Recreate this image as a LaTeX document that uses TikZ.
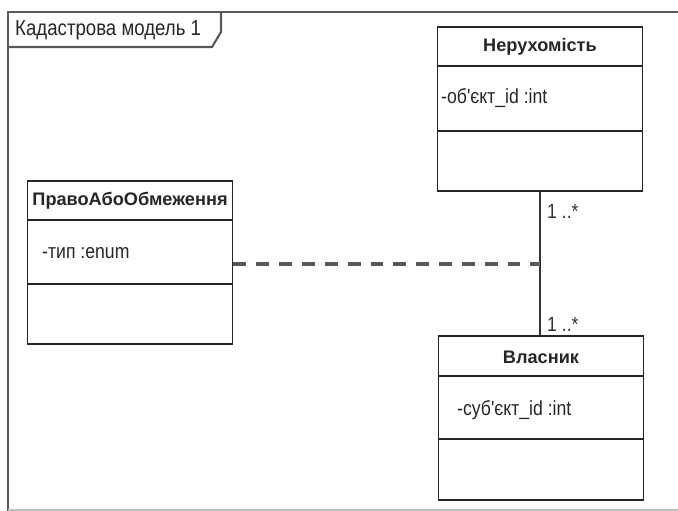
\documentclass[tikz,border=0pt]{standalone}
\usepackage{fontspec}
\setmainfont{Liberation Sans}
\newfontfamily\narrowsans[FakeStretch=0.86]{Liberation Sans}
\usetikzlibrary{positioning,calc}

\begin{document}
\begin{tikzpicture}[x=0.03cm,y=-0.03cm,
    frameline/.style={draw=black!65,line width=1.8pt},
    classbox/.style={draw=black!85,line width=1.6pt,rectangle,minimum width=6.15cm,inner sep=0pt},
    classline/.style={draw=black!85,line width=1.6pt},
    ctitle/.style={font=\fontsize{15.5}{18}\selectfont\bfseries,text=black!85},
    attr/.style={font=\narrowsans\fontsize{17.5}{20}\selectfont,anchor=west,inner sep=0pt,text=black!85},
    mult/.style={font=\narrowsans\fontsize{17.5}{20}\selectfont,anchor=west,inner sep=0pt,text=black!80},
    assoc/.style={draw=black!80,line width=1.4pt},
    dep/.style={draw=black!65,line width=2.6pt,dash pattern=on 11pt off 8.5pt}
  ]
    \useasboundingbox (0,0) rectangle (678,511);

    % Frame
    \draw[frameline] (678,12) -- (8,12) -- (8,511);
    \draw[draw=black!25,line width=1pt] (8,510) -- (678,510);
    \node[font=\narrowsans\fontsize{18.5}{21}\selectfont,anchor=west,inner sep=0pt,text=black!85] (fname) at (15,30) {Кадастрова модель 1};
    \draw[frameline] (8,47) -- (212,47) -- (221,32) -- (221,12);

    % Class: Нерухомість
    \node[classbox,minimum height=4.9cm] (ner) at (540,109) {};
    \node[ctitle] (nerT) at (540,47) {Нерухомість};
    \draw[classline] (ner.west |- 0,66) -- (ner.east |- 0,66);
    \node[attr] (nerA) at (441,98) {-об'єкт\_id :int};
    \draw[classline] (ner.west |- 0,131) -- (ner.east |- 0,131);

    % Class: ПравоАбоОбмеження
    \node[classbox,minimum height=4.91cm] (pr) at (130,262.5) {};
    \node[ctitle] (prT) at (130,201) {ПравоАбоОбмеження};
    \draw[classline] (pr.west |- 0,220) -- (pr.east |- 0,220);
    \node[attr] (prA) at (42,253) {-тип :enum};
    \draw[classline] (pr.west |- 0,284) -- (pr.east |- 0,284);

    % Class: Власник
    \node[classbox,minimum height=4.93cm] (vl) at (541,418) {};
    \node[ctitle] (vlT) at (541,357) {Власник};
    \draw[classline] (vl.west |- 0,376) -- (vl.east |- 0,376);
    \node[attr] (vlA) at (457,410) {-суб'єкт\_id :int};
    \draw[classline] (vl.west |- 0,439) -- (vl.east |- 0,439);

    % Association with multiplicities
    \draw[assoc] (ner.south -| 540,0) -- (vl.north -| 540,0);
    \node[mult] (m1) at (547,211) {1 ..*};
    \node[mult] (m2) at (547,324) {1 ..*};

    % Association class link
    \coordinate (mid) at (540,264);
    \draw[dep] (pr.east |- mid) -- (mid);
\end{tikzpicture}
\end{document}
